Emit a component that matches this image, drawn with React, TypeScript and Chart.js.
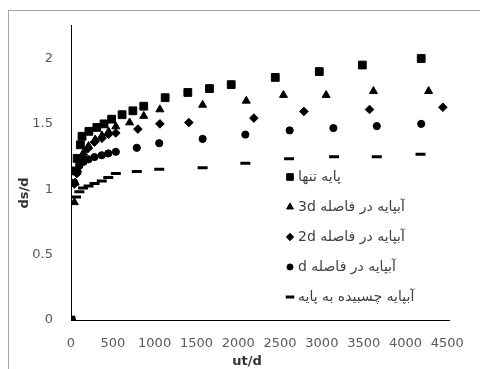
import React, { useEffect, useRef } from 'react';
import { Chart, registerables } from 'chart.js';
import { drawPoint } from 'chart.js/helpers';

Chart.register(...registerables);

// Series labels (legend)
const seriesLabels = [
  'پایه تنها',
  'آبپایه در فاصله 3d',
  'آبپایه در فاصله 2d',
  'آبپایه در فاصله d',
  'آبپایه چسبیده به پایه',
];

const xTitle = 'ut/d';
const yTitle = 'ds/d';

// پایه تنها (squares)
const pileAloneX = [0, 55, 73, 112, 132, 214, 309, 395, 486, 611, 740, 870, 1126, 1397, 1656, 1916, 2443, 2969, 3484, 4188];
const pileAloneY = [0, 1.14, 1.236, 1.34, 1.405, 1.443, 1.473, 1.5, 1.536, 1.57, 1.6, 1.635, 1.7, 1.74, 1.77, 1.8, 1.855, 1.9, 1.95, 2.0];

// آبپایه در فاصله 3d (triangles)
const col3dX = [0, 40, 50, 80, 110, 150, 210, 290, 370, 450, 536, 701, 870, 1063, 1574, 2096, 2541, 3051, 3617, 4277];
const col3dY = [0, 0.9, 1.05, 1.15, 1.22, 1.28, 1.33, 1.38, 1.41, 1.44, 1.48, 1.51, 1.56, 1.61, 1.645, 1.676, 1.72, 1.72, 1.75, 1.75];

// آبپایه در فاصله 2d (diamonds)
const col2dX = [0, 40, 70, 100, 140, 200, 280, 370, 450, 536, 800, 1063, 1409, 2187, 2785, 3570, 4447];
const col2dY = [0, 1.04, 1.12, 1.19, 1.25, 1.31, 1.36, 1.39, 1.42, 1.43, 1.46, 1.5, 1.51, 1.544, 1.595, 1.61, 1.627];

// آبپایه در فاصله d (circles)
const col1dX = [0, 40, 70, 100, 151, 210, 281, 368, 446, 536, 787, 1055, 1574, 2085, 2615, 3138, 3657, 4188];
const col1dY = [0, 1.05, 1.13, 1.18, 1.21, 1.229, 1.246, 1.26, 1.274, 1.286, 1.317, 1.352, 1.385, 1.418, 1.45, 1.468, 1.483, 1.5];

// آبپایه چسبیده به پایه (dashes)
const attachedX = [0, 60, 100, 144, 210, 281, 368, 446, 536, 787, 1055, 1574, 2085, 2608, 3146, 3657, 4180];
const attachedY = [0, 0.94, 0.98, 1.01, 1.024, 1.044, 1.064, 1.09, 1.12, 1.135, 1.153, 1.165, 1.198, 1.233, 1.248, 1.248, 1.267];

const xTicks = [0, 500, 1000, 1500, 2000, 2500, 3000, 3500, 4000, 4500];
const yTicks = [0, 0.5, 1, 1.5, 2];

const zip = (xs: number[], ys: number[]) => xs.map((x, i) => ({ x, y: ys[i] }));

const pointStyles: any[] = [
  { pointStyle: 'rect', radius: 5.5, borderWidth: 1 },
  { pointStyle: 'triangle', radius: 4.6, borderWidth: 1 },
  { pointStyle: 'rectRot', radius: 4.3, borderWidth: 1 },
  { pointStyle: 'circle', radius: 3.6, borderWidth: 1 },
  { pointStyle: 'line', radius: 5, borderWidth: 3 },
];

const frameAndLegend = {
  id: 'frameAndLegend',
  beforeDraw(chart: any) {
    const ctx = chart.ctx;
    ctx.save();
    ctx.fillStyle = '#ffffff';
    ctx.fillRect(0, 0, chart.width, chart.height);
    ctx.strokeStyle = '#a6a6a6';
    ctx.lineWidth = 1;
    ctx.strokeRect(8.5, 10.5, chart.width + 20, chart.height + 20);
    ctx.restore();
  },
  afterDraw(chart: any) {
    const ctx = chart.ctx;
    ctx.save();
    // axis titles
    ctx.font = 'bold 13px "DejaVu Sans", sans-serif';
    ctx.fillStyle = '#333';
    ctx.textAlign = 'center';
    ctx.textBaseline = 'middle';
    ctx.fillText(xTitle, 247, 362);
    ctx.save();
    ctx.translate(25, 193);
    ctx.rotate(-Math.PI / 2);
    ctx.fillText(yTitle, 0, 0);
    ctx.restore();

    // legend
    const markerX = 290;
    const textX = 298;
    const startY = 177;
    const step = 30;
    chart.data.datasets.forEach((ds: any, i: number) => {
      const y = startY + i * step;
      ctx.fillStyle = '#000';
      ctx.strokeStyle = '#000';
      const ps = pointStyles[i];
      ctx.lineWidth = ps.borderWidth;
      drawPoint(ctx, { pointStyle: ps.pointStyle, radius: ps.radius * 0.85, borderWidth: ps.borderWidth, rotation: 0 }, markerX, y);
      ctx.font = '14px "DejaVu Sans", sans-serif';
      ctx.fillStyle = '#404040';
      (ctx as any).direction = 'rtl';
      ctx.textAlign = 'left';
      ctx.textBaseline = 'middle';
      ctx.fillText(ds.label, textX, y);
    });
    ctx.restore();
  },
};

export default function App() {
  const ref = useRef<HTMLCanvasElement>(null);
  useEffect(() => {
    if (!ref.current) return;
    const data = [
      zip(pileAloneX, pileAloneY),
      zip(col3dX, col3dY),
      zip(col2dX, col2dY),
      zip(col1dX, col1dY),
      zip(attachedX, attachedY),
    ];
    const tickFont = { family: '"DejaVu Sans", sans-serif', size: 13 };
    const chart = new Chart(ref.current, {
      type: 'scatter',
      data: {
        datasets: data.map((d, i) => ({
          label: seriesLabels[i],
          data: d,
          showLine: false,
          pointStyle: pointStyles[i].pointStyle,
          pointRadius: pointStyles[i].radius,
          pointBorderWidth: pointStyles[i].borderWidth,
          pointBackgroundColor: '#000',
          pointBorderColor: '#000',
          pointHoverRadius: pointStyles[i].radius,
        })),
      },
      options: {
        responsive: false,
        animation: false,
        layout: { padding: { top: 24, right: 25, left: 0, bottom: 0 } },
        plugins: {
          legend: { display: false },
          tooltip: { enabled: false },
        },
        scales: {
          x: {
            type: 'linear',
            min: 0,
            max: 4530,
            afterBuildTicks: (s: any) => {
              s.ticks = xTicks.map((v) => ({ value: v }));
            },
            afterFit: (s: any) => {
              s.height = 49;
            },
            grid: { display: false, drawTicks: false },
            border: { display: true, color: '#000', width: 1 },
            ticks: {
              font: tickFont,
              color: '#595959',
              padding: 16,
              maxRotation: 0,
              autoSkip: false,
              callback: (v: any) => String(v),
            },
            title: { display: false, text: xTitle },
          },
          y: {
            type: 'linear',
            min: 0,
            max: 2.25,
            afterBuildTicks: (s: any) => {
              s.ticks = yTicks.map((v) => ({ value: v }));
            },
            afterFit: (s: any) => {
              s.width = 71;
            },
            grid: { display: false, drawTicks: false },
            border: { display: true, color: '#000', width: 1 },
            ticks: {
              font: tickFont,
              color: '#595959',
              padding: 18,
              callback: (v: any) => String(v),
            },
            title: { display: false, text: yTitle },
          },
        },
      },
      plugins: [frameAndLegend],
    });
    return () => chart.destroy();
  }, []);
  return (
    <div style={{ position: 'absolute', left: 0, top: 0, width: 480, height: 369, overflow: 'hidden', background: '#fff' }}>
      <canvas ref={ref} width={480} height={369} style={{ display: 'block' }} />
    </div>
  );
}
